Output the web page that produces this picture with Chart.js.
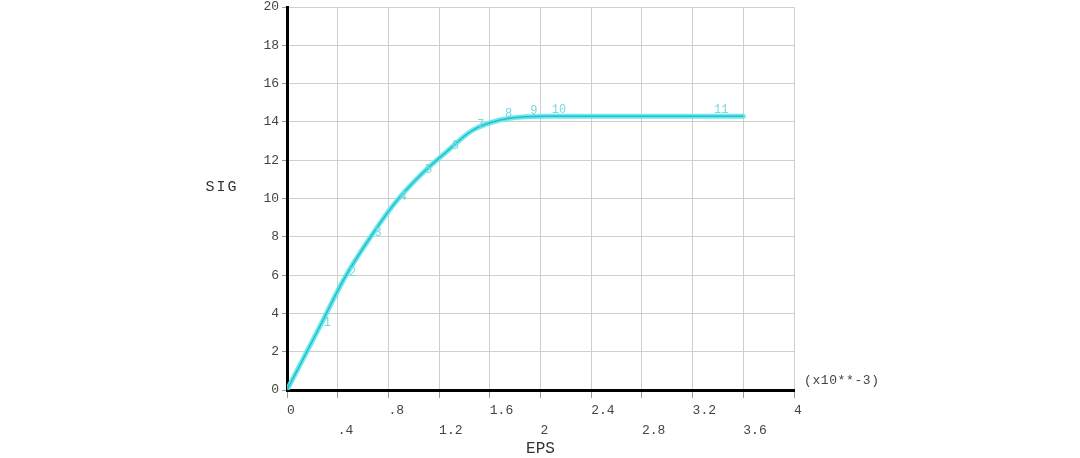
<!DOCTYPE html>
<html>
<head>
<meta charset="utf-8">
<script src="https://cdn.jsdelivr.net/npm/chart.js@4"></script>
<style>
  html, body { margin: 0; padding: 0; background: #ffffff; }
  #wrap { width: 1080px; height: 458px; position: relative; }
</style>
</head>
<body>
<div id="wrap"><canvas id="c" width="1080" height="458"></canvas></div>
<script>
// ---- data ----
const eps = [0, 0.25, 0.45, 0.65, 0.85, 1.05, 1.26, 1.46, 1.68, 1.88, 2.05, 3.33, 3.6];
const sig = [0, 3.2, 5.8, 7.9, 9.75, 11.2, 12.45, 13.55, 14.1, 14.27, 14.3, 14.3, 14.3];
const pointLabels = ['', '1', '2', '3', '4', '5', '6', '7', '8', '9', '10', '11', ''];
const xTickStep = 0.4;
const yTickStep = 2;
const xTitle = 'EPS';
const yTitle = 'SIG';
const xMultiplier = '(x10**-3)';

const MONO = '"Courier New", "Liberation Mono", "DejaVu Sans Mono", monospace';
const pts = eps.map((x, i) => ({ x: x, y: sig[i] }));

function fmtTick(v) {
  let s = (Math.round(v * 10) / 10).toString();
  if (s.startsWith('0.')) s = s.slice(1);
  return s;
}

const annotate = {
  id: 'annotate',
  afterDatasetsDraw(chart) {
    const ctx = chart.ctx;
    const meta = chart.getDatasetMeta(0);
    ctx.save();
    ctx.font = '12px ' + MONO;
    ctx.fillStyle = '#74d9dd';
    ctx.textAlign = 'left';
    ctx.textBaseline = 'middle';
    meta.data.forEach((el, i) => {
      const t = pointLabels[i];
      if (t) ctx.fillText(t, el.x + 5, el.y - 6);
    });
    ctx.restore();
  },
  afterDraw(chart) {
    const ctx = chart.ctx;
    const ca = chart.chartArea;
    ctx.save();
    ctx.fillStyle = '#333333';
    ctx.textBaseline = 'middle';
    ctx.font = '15px ' + MONO;
    ctx.letterSpacing = '2px';
    ctx.textAlign = 'center';
    ctx.fillText(yTitle, 222, chart.scales.y.getPixelForValue(10.6));
    ctx.letterSpacing = '0.6px';
    ctx.font = '13px ' + MONO;
    ctx.textAlign = 'left';
    ctx.fillStyle = '#444444';
    ctx.fillText(xMultiplier, ca.right + 10, ca.bottom - 9);
    ctx.restore();
  }
};

new Chart(document.getElementById('c'), {
  type: 'scatter',
  data: {
    datasets: [
      {
        data: pts,
        showLine: true,
        borderColor: 'rgba(90,232,238,0.9)',
        borderWidth: 5,
        pointRadius: 0,
        cubicInterpolationMode: 'monotone',
        borderCapStyle: 'round',
        order: 2
      },
      {
        data: pts,
        showLine: true,
        borderColor: '#2bbcc4',
        borderWidth: 1.5,
        pointRadius: 0,
        cubicInterpolationMode: 'monotone',
        order: 1
      }
    ]
  },
  options: {
    responsive: false,
    animation: false,
    devicePixelRatio: 1,
    layout: { padding: { left: 0, right: 286, top: 7, bottom: 0 } },
    plugins: { legend: { display: false }, tooltip: { enabled: false } },
    scales: {
      x: {
        type: 'linear',
        min: 0,
        max: 4,
        afterFit(s) { s.height = 68; },
        border: { display: true, color: '#000000', width: 3 },
        grid: { color: '#cfcfcf', lineWidth: 1, tickLength: 8, tickColor: '#999999' },
        ticks: {
          stepSize: xTickStep,
          align: 'start',
          padding: 2,
          maxRotation: 0,
          autoSkip: false,
          color: '#444444',
          font: { family: MONO, size: 13, lineHeight: 1.55 },
          callback(v, i) {
            const s = fmtTick(v);
            return i % 2 === 0 ? s : ['', s];
          }
        },
        title: {
          display: true,
          text: xTitle,
          color: '#333333',
          padding: { top: 0, bottom: 0 },
          font: { family: MONO, size: 16, lineHeight: 1.2 }
        }
      },
      y: {
        type: 'linear',
        min: 0,
        max: 20,
        afterFit(s) { s.width = 287; },
        border: { display: true, color: '#000000', width: 3 },
        grid: { color: '#cfcfcf', lineWidth: 1, tickLength: 5, tickColor: '#999999' },
        ticks: {
          stepSize: yTickStep,
          padding: 3,
          color: '#444444',
          font: { family: MONO, size: 13, lineHeight: 0.6 },
          callback(v) { return fmtTick(v); }
        }
      }
    }
  },
  plugins: [annotate]
});
</script>
</body>
</html>
